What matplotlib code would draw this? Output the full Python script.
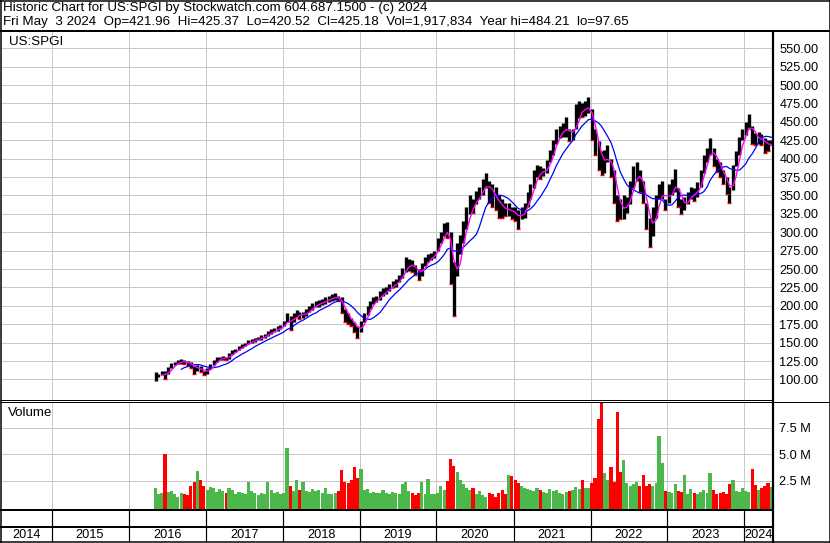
import numpy as np
import pandas as pd
import matplotlib
matplotlib.use("Agg")
import matplotlib.pyplot as plt

plt.rcParams['font.family'] = ['Liberation Sans', 'DejaVu Sans']

# half-monthly price ranges (1st-15th, 16th-end), May 2016 .. early May 2024
hi_2016 = [110, 108, 111, 111, 117, 122, 124, 127, 128, 126, 125, 124, 118, 120, 118, 112]
lo_2016 = [98, 104, 106, 100, 108, 116, 119, 121, 121, 121, 118, 116, 108, 112, 110, 106]
hi_2017 = [116, 121, 126, 130, 131, 132, 131, 136, 140, 142, 145, 148, 150, 154, 155, 157, 158, 160, 162, 166, 168, 170, 172, 174]
lo_2017 = [107, 114, 119, 124, 126, 127, 127, 128, 134, 137, 140, 143, 145, 148, 150, 151, 153, 154, 157, 159, 162, 164, 166, 168]
hi_2018 = [180, 190, 186, 190, 195, 192, 192, 196, 200, 204, 206, 208, 210, 212, 214, 216, 217, 214, 212, 196, 190, 184, 178, 172]
lo_2018 = [172, 178, 167, 178, 185, 182, 183, 186, 192, 195, 198, 199, 201, 203, 205, 207, 208, 206, 190, 178, 176, 172, 165, 157]
hi_2019 = [180, 190, 200, 206, 212, 214, 220, 224, 226, 230, 234, 236, 242, 252, 266, 264, 262, 256, 250, 258, 266, 270, 272, 274]
lo_2019 = [165, 178, 188, 196, 202, 205, 208, 214, 216, 220, 224, 226, 232, 238, 246, 248, 246, 242, 235, 240, 254, 260, 262, 265]
hi_2020 = [292, 300, 312, 314, 300, 260, 285, 296, 315, 334, 350, 345, 356, 362, 372, 380, 370, 365, 362, 350, 345, 340, 340, 335]
lo_2020 = [275, 285, 295, 292, 230, 186, 240, 270, 285, 305, 325, 326, 338, 345, 350, 360, 340, 335, 330, 320, 320, 322, 322, 318]
hi_2021 = [335, 330, 335, 340, 355, 365, 385, 392, 390, 388, 398, 412, 425, 440, 445, 448, 456, 440, 440, 474, 478, 476, 478, 484]
lo_2021 = [315, 304, 318, 320, 335, 345, 360, 375, 372, 376, 380, 396, 405, 420, 428, 430, 430, 424, 425, 440, 455, 456, 458, 462]
hi_2022 = [468, 440, 424, 410, 412, 418, 400, 385, 350, 345, 350, 348, 370, 390, 396, 385, 370, 340, 320, 335, 350, 365, 370, 345]
lo_2022 = [425, 405, 385, 378, 380, 395, 375, 340, 315, 318, 318, 326, 338, 360, 370, 355, 340, 305, 280, 295, 320, 345, 345, 330]
hi_2023 = [365, 372, 386, 360, 345, 348, 355, 362, 360, 368, 385, 405, 415, 428, 415, 400, 395, 385, 375, 362, 392, 410, 430, 440]
lo_2023 = [340, 350, 355, 335, 325, 330, 338, 345, 342, 348, 362, 380, 395, 405, 390, 382, 375, 365, 352, 340, 358, 390, 405, 425]
hi_2024 = [450, 461, 445, 435, 436, 433, 428, 425, 426]
lo_2024 = [432, 440, 420, 418, 420, 418, 408, 410, 418]

# half-monthly volume, millions
vol_2016 = [1.8, 1.2, 1.3, 5.0, 1.4, 1.5, 1.2, 1.0, 1.3, 1.2, 1.1, 2.0, 2.4, 3.4, 2.6, 2.0]
vol_2017 = [1.6, 1.9, 1.8, 1.4, 1.7, 1.5, 1.3, 1.8, 1.6, 1.2, 1.4, 1.3, 1.2, 2.4, 1.5, 1.3, 1.1, 1.3, 1.2, 2.4, 1.6, 1.3, 1.4, 1.2]
vol_2018 = [1.3, 5.6, 2.0, 1.5, 2.6, 1.6, 2.4, 1.5, 1.4, 1.7, 1.5, 1.6, 1.3, 1.8, 1.2, 1.2, 1.3, 1.5, 3.5, 2.4, 2.3, 2.6, 3.8, 2.8]
vol_2019 = [3.6, 1.6, 1.7, 1.3, 1.4, 1.3, 1.3, 1.6, 1.3, 1.2, 1.4, 1.3, 1.2, 2.2, 2.4, 1.5, 1.3, 1.1, 1.3, 2.4, 1.2, 2.7, 1.2, 1.2]
vol_2020 = [1.3, 2.0, 1.6, 2.5, 4.6, 3.9, 3.3, 2.6, 2.2, 1.8, 1.6, 1.8, 1.2, 1.5, 1.1, 1.0, 1.3, 1.2, 1.0, 1.3, 1.6, 1.2, 3.0, 2.9]
vol_2021 = [2.6, 2.3, 2.0, 1.8, 1.7, 1.6, 1.5, 1.8, 1.6, 1.4, 1.3, 1.7, 1.5, 1.6, 1.3, 1.2, 1.4, 1.5, 1.6, 1.9, 1.7, 2.6, 1.8, 1.8]
vol_2022 = [2.3, 2.8, 8.3, 10.0, 3.2, 2.6, 3.8, 2.4, 9.0, 3.3, 4.5, 2.3, 2.0, 2.2, 2.4, 2.0, 3.0, 2.0, 2.2, 2.0, 2.3, 6.7, 4.2, 1.5]
vol_2023 = [1.4, 1.3, 2.2, 1.5, 1.4, 3.0, 1.2, 1.7, 1.3, 1.2, 1.4, 1.6, 1.3, 3.2, 1.6, 1.2, 1.3, 1.4, 1.2, 2.2, 2.6, 1.5, 1.4, 1.8]
vol_2024 = [1.5, 1.4, 3.6, 2.1, 1.6, 1.8, 2.0, 2.3, 1.9]

hi = np.array(hi_2016 + hi_2017 + hi_2018 + hi_2019 + hi_2020 + hi_2021 + hi_2022 + hi_2023 + hi_2024, float)
lo = np.array(lo_2016 + lo_2017 + lo_2018 + lo_2019 + lo_2020 + lo_2021 + lo_2022 + lo_2023 + lo_2024, float)
vol = np.array(vol_2016 + vol_2017 + vol_2018 + vol_2019 + vol_2020 + vol_2021 + vol_2022 + vol_2023 + vol_2024)
dates = pd.date_range('2016-05-01', periods=len(hi), freq='SMS') + pd.Timedelta(days=7)

# moving averages (~30 and ~100 trading days)
mid = pd.Series((hi + lo) / 2)
ma_short = mid.rolling(3).mean()
ma_long = mid.rolling(9).mean()
up = np.r_[True, np.diff(mid.values) >= 0]

header1 = "Historic Chart for US:SPGI by Stockwatch.com 604.687.1500 - (c) 2024"
header2 = ("Fri May  3 2024  Op=421.96  Hi=425.37  Lo=420.52  Cl=425.18  "
           "Vol=1,917,834  Year hi=484.21  lo=97.65")

W, H = 830, 543
FS = 9.2
FS_TXT = 9.6
PX = 0.72
x0, x1 = pd.Timestamp('2014-05-06'), pd.Timestamp('2024-05-17')
years = pd.date_range('2015-01-01', '2024-01-01', freq='YS')
grid_c = '#c8c8c8'

fig = plt.figure(figsize=(8.3, 5.43), dpi=100)


def box(xa, ya, xb, yb):
    return [xa / W, 1 - yb / H, (xb - xa) / W, (yb - ya) / H]


# price panel
ax = fig.add_axes(box(1, 31, 773.3, 399.5))
ax.set_xlim(x0, x1)
ax.set_ylim(72.8, 573.5)
ax.set_xticks(years)
ax.set_yticks(np.arange(100, 551, 25))
ax.set_yticklabels([f'{v:.2f}' for v in np.arange(100, 551, 25)])
ax.yaxis.tick_right()
ax.tick_params(axis='y', length=0, pad=4.3, labelsize=FS)
ax.tick_params(axis='x', length=0, labelbottom=False)
ax.grid(True, color=grid_c, lw=PX)
for s in ax.spines.values():
    s.set_visible(False)
ax.vlines(dates, lo, hi, color='black', lw=2.4, zorder=3)
tick_y = np.where(up, hi, lo)
ax.plot(dates[~up], tick_y[~up], ls='none', marker='_', ms=2.5, mew=1.0, color='red', zorder=4)
ax.plot(dates, ma_long, color='#0000ff', lw=0.9, zorder=5)
ax.plot(dates, ma_short, color='#ff00ff', lw=1.0, zorder=6)

# volume panel
axv = fig.add_axes(box(1, 401.7, 773.3, 509.5))
axv.set_xlim(x0, x1)
axv.set_ylim(-0.23, 9.98)
axv.set_xticks(years)
axv.set_yticks([2.5, 5.0, 7.5])
axv.set_yticklabels(['2.5 M', '5.0 M', '7.5 M'])
axv.yaxis.tick_right()
axv.tick_params(axis='y', length=0, pad=4.3, labelsize=FS)
axv.tick_params(axis='x', length=0, labelbottom=False)
axv.grid(True, color=grid_c, lw=PX)
for s in axv.spines.values():
    s.set_visible(False)
colors = np.where(up, '#4cb84c', '#ff0000')
axv.bar(dates, vol + 0.23, bottom=-0.23, width=15, color=colors, zorder=3)

# year band
axy = fig.add_axes(box(1, 509.5, 773.3, 542))
axy.set_xlim(x0, x1)
axy.set_ylim(542, 509.5)
axy.axis('off')
axy.vlines(years, 509.5, 542, color='black', lw=PX * 1.2)
for yr in range(2014, 2025):
    a = max(pd.Timestamp(f'{yr}-01-01'), x0)
    b = min(pd.Timestamp(f'{yr + 1}-01-01'), x1)
    axy.text(a + (b - a) / 2, 534.5, str(yr), ha='center', va='center', fontsize=FS)

# frame and header in pixel coordinates
ov = fig.add_axes([0, 0, 1, 1], zorder=10)
ov.set_xlim(0, W)
ov.set_ylim(H, 0)
ov.axis('off')
k = dict(color='black', solid_capstyle='butt')
ov.plot([0.5, 0.5], [0, H], lw=PX * 1.5, **k)
ov.plot([829.5, 829.5], [0, H], lw=PX * 1.5, **k)
ov.plot([0, W], [0.7, 0.7], lw=PX * 1.5, **k)
ov.plot([0, W], [542.3, 542.3], lw=PX * 1.5, **k)
ov.plot([0, W], [31, 31], lw=PX * 2, **k)
ov.plot([773.3, 773.3], [31, H], lw=PX * 2.2, **k)
ov.plot([0, 773.3], [399.5, 399.5], lw=PX, **k)
ov.plot([0, W], [401.7, 401.7], lw=PX, **k)
ov.plot([0, 773.3], [509.5, 509.5], lw=PX * 2, **k)
ov.plot([0, 773.3], [526.7, 526.7], lw=PX * 2, **k)
ov.text(3, 8.5, header1, va='center', fontsize=FS_TXT)
ov.text(3, 22.5, header2, va='center', fontsize=FS_TXT)
ov.text(9, 42, 'US:SPGI', va='center', fontsize=FS_TXT)
ov.text(8, 413, 'Volume', va='center', fontsize=FS_TXT)

fig.savefig('out.png', dpi=100)
